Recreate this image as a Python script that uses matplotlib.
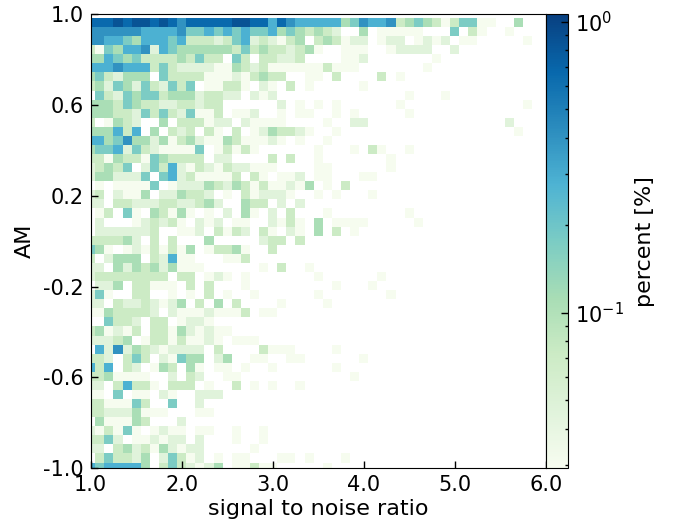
import numpy as np
import matplotlib
matplotlib.use('Agg')
import matplotlib.pyplot as plt
from matplotlib.colors import LogNorm

# percent value for each shade, '.' means an empty bin
LEVELS = {'1': 0.03, '2': 0.046, '3': 0.072, '4': 0.11, '5': 0.176,
          '6': 0.28, '7': 0.4, '8': 0.66, '9': 0.85}

# one string per AM bin, top to bottom, one char per SNR bin, left to right
ROWS = [
    "88898" "99898" "78888" "89988" "68766" "6" "6645766734543135511..4",
    "77777" "76666" "75565" "65655" "64543" "4" "32..4.11111...5.31..1",
    "77665" "46665" "63332" "35623" "2134." "3" "43122.122.1212.11.....1",
    "31546" "67265" "44444" "43534" "33234" "1" "..111..12222..2",
    "44654" "53333" "43533" ".53.3" "3223." "." "..112.......1",
    "66676" "66353" "22221" "14323" "11111" "1" "3111.......1",
    "45324" "44.53" "33311" "12134" "33..1" "1" ".3....3.1",
    "34254" "25325" "35.11" "331.2" "1.3.1" "." "....1",
    ".5325" "45534" "44233" "22.21" "2...." "." ".........1...1",
    "44435" "43322" "33233" "....." ".2.1." "1" ".1......1.............1",
    "44433" "25353" "25113" ".112." ".1.11" "." ".1.1.....1",
    "3.143" "2..4." "33312" "2.211" "11..." "." "1..22...............2",
    "44463" "6.4.3" "23.31" ".3.12" "43321" "." ".1...................1",
    "66457" "44241" "34211" "43111" "21.1." "." "1",
    "45562" "53211" "115.1" "3131." "....." "1" "...1.31..1",
    "33143" "31543" "333.2" "2...." "3.3.." "1" ".......1",
    "23435" ".2536" "21321" "32211" "1...." "1" "1......1",
    "24422" "25.56" "23111" "13.31" ".112." "1" "1...11",
    ".1.11" "115.1" "22243" "24313" "11214" "." "1.3",
    "23.21" "14.22" "4332." "1.312" "221.." "1" ".1...1",
    "22.33" "22233" "22342" "..433" ".2.2." ".",
    ".13.5" "1.431" "41.1." "2.41." "2.3.." "." "1........1",
    ".2..." "12323" "1.212" ".11.." "2131." "4" ".1111.....1",
    ".2222" "223.." "112.3" "132.3" "1.21." "4" ".3.1",
    "33334" "2.3.3" "...4." "....2" "33.3." ".",
    "541.1" "21313" "14.13" "341.." "3...." ".",
    "3.244" "4.326" "11..." "113.." "....." ".",
    "22.42" "43424" "111.." "....1" ".3..1" ".",
    "23333" "3333." "33.12" "1.1.." "....." "1" "......1",
    ".224." "33111" ".3.3." "..1.." "....." "." ".1...1",
    "251.." "33..1" ".1.3." "1..1." "....." "1" ".......1",
    "22.32" "23212" "4.3.4" ".3..." ".1..." "." "1",
    "11433" "332.2" "11121" "113.1" "1",
    "..533" "2.33." "1221",
    "34121" "3.331" "42121" "1",
    "22234" ".1331" "31121" ".111",
    ".6272" "43212" "222.3" "....3" "111.." "." ".1",
    "332.3" "53.21" "544.2" "4..11" "..11." "." "....1",
    "636.3" "2.143" ".41.1" "1.1.." "1...." "." ".1",
    "33411" "11..2" ".32.." "11..." "....." "." "...1",
    "22.36" "331.3" "33.1." ".3.1." "1..1",
    "11.5." "11.21" "..222",
    "33111" "53..5" "..2",
    "33222" "4111." "..11",
    ".4111" "43..." "2",
    "21315" "1.121" "1.11." ".1..1",
    "3352." "11212" "2.2.." ".1..1",
    "22.34" "23142" "122.." "...1",
    ".3533" "24.25" "312.1" ".11.." ".11.1" "." "..1",
    "65666" "64.35" "32124" ".1131" "1...." "." "1",
]

X_TICKS = [1.0, 2.0, 3.0, 4.0, 5.0, 6.0]
Y_TICKS = [-1.0, -0.6, -0.2, 0.2, 0.6, 1.0]

N_COLS = 51
N_ROWS = len(ROWS)


def rows_to_grid(rows):
    grid = np.full((N_ROWS, N_COLS), np.nan)
    for i, row in enumerate(rows):
        for j, ch in enumerate(row[:N_COLS]):
            if ch in LEVELS:
                grid[i, j] = LEVELS[ch]
    return np.ma.masked_invalid(grid)


plt.rcParams['axes.unicode_minus'] = False

W, H = 673, 527
fig = plt.figure(figsize=(W / 100, H / 100), dpi=100)
ax = fig.add_axes([90.7 / W, 1 - 468 / H, 455 / W, 453.7 / H])
cax = fig.add_axes([545.7 / W, 1 - 468 / H, 22.6 / W, 453.7 / H])

# bins sit half a cell off the tick positions, so the outer ones get clipped
x_edges = 0.95 + 0.1 * np.arange(N_COLS + 1)
y_edges = 0.984 - 0.04 * np.arange(N_ROWS + 1)
mesh = ax.pcolormesh(x_edges, y_edges, rows_to_grid(ROWS), cmap='GnBu',
                     norm=LogNorm(vmin=0.0293, vmax=1.06), linewidth=0)
ax.set_xlim(1, 6)
ax.set_ylim(-1, 1)
ax.set_xticks(X_TICKS)
ax.set_yticks(Y_TICKS)
ax.set_xticklabels([f'{v:.1f}' for v in X_TICKS])
ax.set_yticklabels([f'{v:.1f}' for v in Y_TICKS])
ax.tick_params(direction='in', length=5, width=1, labelsize=15, pad=5)
ax.set_xlabel('signal to noise ratio', fontsize=16, labelpad=3)
ax.set_ylabel('AM', fontsize=16, labelpad=6)

cbar = fig.colorbar(mesh, cax=cax)
cbar.ax.tick_params(which='major', direction='in', length=5, width=1, labelsize=15, pad=5)
cbar.ax.tick_params(which='minor', direction='in', length=2, width=1)
cbar.set_label('percent [%]', fontsize=16, labelpad=8)

fig.savefig('out.png', dpi=100)
